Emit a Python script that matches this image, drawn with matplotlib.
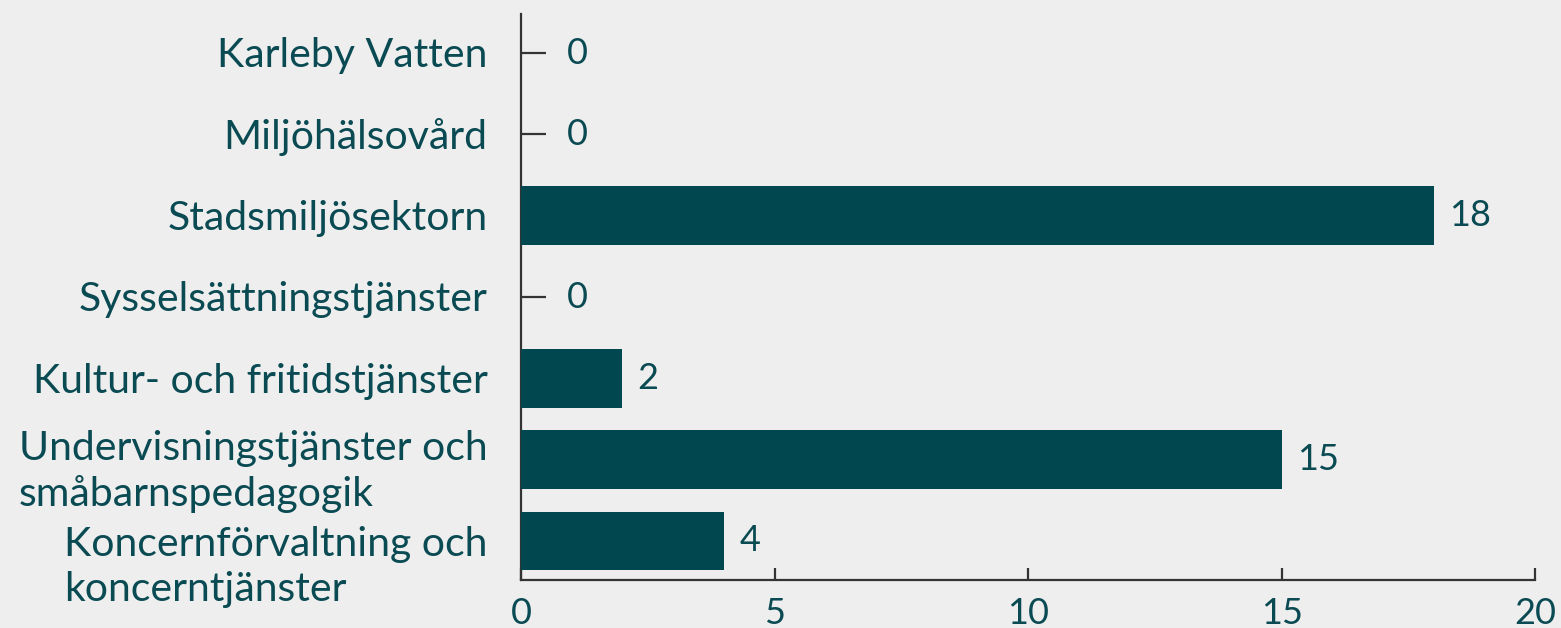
import matplotlib.pyplot as plt
import numpy as np

categories = [
    "Karleby Vatten",
    "Miljöhälsovård",
    "Stadsmiljösektorn",
    "Sysselsättningstjänster",
    "Kultur- och fritidstjänster",
    "Undervisningstjänster och\nsmåbarnspedagogik",
    "Koncernförvaltning och\nkoncerntjänster",
]
values = [0, 0, 18, 0, 2, 15, 4]
xticks = [0, 5, 10, 15, 20]

BG = "#eeeeee"
BAR = "#01474f"
TXT = "#0a4a52"
AXC = "#333333"

plt.rcParams["font.family"] = ["Lato", "DejaVu Sans"]

fig = plt.figure(figsize=(15.61, 6.28), dpi=100, facecolor=BG)
ax = fig.add_axes([0.3338, 0.0764, 0.6496, 0.9013], facecolor=BG)

y = np.arange(len(categories))
ax.barh(y, values, height=0.725, color=BAR, zorder=3)

ax.set_xlim(0, 20)
ax.set_ylim(len(categories) - 0.52, -0.48)
ax.set_xticks(xticks)
ax.set_xticklabels([str(t) for t in xticks])
ax.set_yticks(y)
ax.set_yticklabels([])

for s in ["top", "right"]:
    ax.spines[s].set_visible(False)
for s in ["left", "bottom"]:
    ax.spines[s].set_color(AXC)
    ax.spines[s].set_linewidth(1.6)

ax.tick_params(axis="y", direction="in", length=18, width=1.6, color=AXC)
ax.tick_params(axis="x", direction="in", length=9, width=1.6, color=AXC,
               labelsize=26, labelcolor=TXT, pad=12)

# category labels: right-aligned block, lines left-aligned inside;
# the two-line labels sit a bit lower in the original
nudge = [-2, -2, -2, -2, -2, -8.5, -19]
for yi, lab, dy in zip(y, categories, nudge):
    ax.annotate(lab, xy=(0, yi), xycoords=("axes fraction", "data"),
                xytext=(-24, dy), textcoords="offset points",
                ha="right", va="center", multialignment="left",
                fontsize=29.5, color=TXT, linespacing=1.27)

for yi, v in zip(y, values):
    off = 33 if v == 0 else 11
    ax.annotate(str(v), xy=(v, yi), xytext=(off, 0), textcoords="offset points",
                ha="left", va="center", fontsize=26, color=TXT)

fig.savefig("out.png", dpi=100, facecolor=BG)
